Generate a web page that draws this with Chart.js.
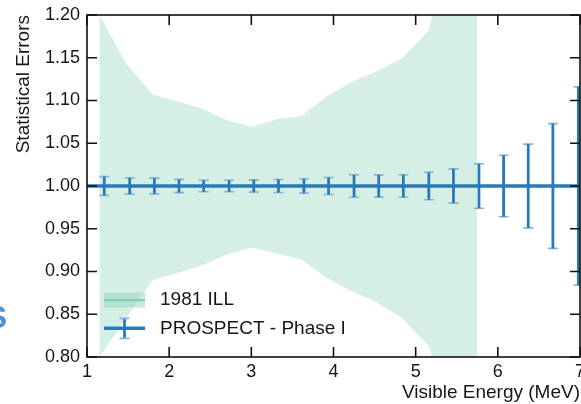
<!DOCTYPE html>
<html>
<head>
<meta charset="utf-8">
<script src="https://cdn.jsdelivr.net/npm/chart.js@4"></script>
<style>
  body { margin: 0; background: #fff; }
  #wrap { position: relative; width: 581px; height: 404px; overflow: hidden; }
  #cut { position: absolute; left: -40px; top: 301px; width: 47px; text-align: right;
         font: bold 32px "Liberation Sans", Arial, sans-serif; line-height: 1; color: #4a8fdc; }
</style>
</head>
<body>
<div id="wrap">
  <canvas id="myChart" width="581" height="404"></canvas>
  <div id="cut">S</div>
</div>
<script>
//// DATOS
// banda ILL 1981
var bandX     = [1.15, 1.48, 1.80, 2.09, 2.39, 2.70, 3.00, 3.31, 3.61, 3.91, 4.22, 4.52, 4.83, 5.16, 5.46, 5.75];
var bandUpper = [1.20, 1.143, 1.107, 1.099, 1.091, 1.077, 1.069, 1.078, 1.082, 1.104, 1.122, 1.134, 1.149, 1.182, 1.31, 1.40];
var bandLower = [0.80, 0.846, 0.890, 0.898, 0.907, 0.920, 0.928, 0.921, 0.914, 0.893, 0.877, 0.864, 0.846, 0.813, 0.72, 0.65];
// PROSPECT fase I
var prospectX   = [1.21, 1.52, 1.82, 2.12, 2.42, 2.73, 3.03, 3.33, 3.64, 3.94, 4.25, 4.55, 4.85, 5.16, 5.46, 5.77, 6.07, 6.37, 6.67, 6.98];
var prospectY   = [1, 1, 1, 1, 1, 1, 1, 1, 1, 1, 1, 1, 1, 1, 1, 1, 1, 1, 1, 1];
var prospectErr = [0.011, 0.0095, 0.0092, 0.0078, 0.0068, 0.0068, 0.0072, 0.0076, 0.0084, 0.010, 0.0131, 0.013, 0.0132, 0.016, 0.020, 0.026, 0.036, 0.049, 0.073, 0.116];
var refLevel = 1.0;
var xTicks = [1, 2, 3, 4, 5, 6, 7];
var yTicks = [0.80, 0.85, 0.90, 0.95, 1.00, 1.05, 1.10, 1.15, 1.20];
var legendNames = ["1981 ILL", "PROSPECT - Phase I"];

var FONT = '"Liberation Sans", Arial, Helvetica, sans-serif';
var azul = "#2a7ab9";
var azulClaro = "#80b5dc";
var verde = "#d5efe4";

function pts(xs, ys){
  return xs.map(function(v, i){ return {x: v, y: ys[i]}; });
}

//// PLUGIN: marco, ticks hacia dentro, barras de error y leyenda
var marco = {
  id: 'marco',
  afterDatasetsDraw: function(chart){
    var ctx = chart.ctx, a = chart.chartArea;
    var sx = chart.scales.x, sy = chart.scales.y;
    ctx.save();
    ctx.beginPath();
    ctx.rect(a.left, a.top, a.right - a.left, a.bottom - a.top);
    ctx.clip();
    // linea de referencia
    var yr = sy.getPixelForValue(refLevel);
    ctx.strokeStyle = azul;
    ctx.lineWidth = 3.5;
    ctx.beginPath(); ctx.moveTo(a.left, yr); ctx.lineTo(a.right, yr); ctx.stroke();
    // barras de error
    for (var i = 0; i < prospectX.length; i++){
      var px = sx.getPixelForValue(prospectX[i]);
      var t = sy.getPixelForValue(prospectY[i] + prospectErr[i]);
      var b = sy.getPixelForValue(prospectY[i] - prospectErr[i]);
      ctx.strokeStyle = azulClaro; ctx.lineWidth = 1.6;
      ctx.beginPath();
      ctx.moveTo(px - 5, t); ctx.lineTo(px + 5, t);
      ctx.moveTo(px - 5, b); ctx.lineTo(px + 5, b);
      ctx.stroke();
      ctx.strokeStyle = azul; ctx.lineWidth = 2.8;
      ctx.beginPath(); ctx.moveTo(px, t); ctx.lineTo(px, b); ctx.stroke();
    }
    ctx.restore();

    // leyenda
    ctx.save();
    var lx = a.left + 17, ly1 = sy.getPixelForValue(0.8665), ly2 = sy.getPixelForValue(0.8335);
    ctx.fillStyle = "rgba(140,208,184,0.45)";
    ctx.fillRect(lx, ly1 - 7.5, 41, 15);
    ctx.strokeStyle = "#7ccbb0"; ctx.lineWidth = 2;
    ctx.beginPath(); ctx.moveTo(lx, ly1); ctx.lineTo(lx + 41, ly1); ctx.stroke();
    ctx.strokeStyle = azul; ctx.lineWidth = 3.5;
    ctx.beginPath(); ctx.moveTo(lx, ly2); ctx.lineTo(lx + 41, ly2); ctx.stroke();
    ctx.lineWidth = 2.8;
    ctx.beginPath(); ctx.moveTo(lx + 20.5, ly2 - 10); ctx.lineTo(lx + 20.5, ly2 + 10); ctx.stroke();
    ctx.strokeStyle = azulClaro; ctx.lineWidth = 1.6;
    ctx.beginPath();
    ctx.moveTo(lx + 15.5, ly2 - 10); ctx.lineTo(lx + 25.5, ly2 - 10);
    ctx.moveTo(lx + 15.5, ly2 + 10); ctx.lineTo(lx + 25.5, ly2 + 10);
    ctx.stroke();
    ctx.fillStyle = "#161616";
    ctx.font = "19px " + FONT;
    ctx.textBaseline = "middle";
    ctx.fillText(legendNames[0], lx + 56, ly1);
    ctx.fillText(legendNames[1], lx + 56, ly2);
    ctx.restore();

    // marco y ticks
    ctx.save();
    ctx.strokeStyle = "#111"; ctx.lineWidth = 1.6;
    ctx.strokeRect(a.left, a.top, a.right - a.left, a.bottom - a.top);
    ctx.beginPath();
    xTicks.forEach(function(v){
      var p = sx.getPixelForValue(v);
      ctx.moveTo(p, a.bottom); ctx.lineTo(p, a.bottom - 10);
      ctx.moveTo(p, a.top); ctx.lineTo(p, a.top + 10);
    });
    yTicks.forEach(function(v){
      var p = sy.getPixelForValue(v);
      ctx.moveTo(a.left, p); ctx.lineTo(a.left + 10, p);
      ctx.moveTo(a.right, p); ctx.lineTo(a.right - 10, p);
    });
    ctx.stroke();
    ctx.restore();
  }
};

var ctx = document.getElementById("myChart").getContext("2d");
var myChart = new Chart(ctx, {
  type: 'line',
  data: {
    datasets: [
      {
        label: "ILL arriba",
        data: pts(bandX, bandUpper),
        borderWidth: 0,
        pointRadius: 0,
        backgroundColor: verde,
        fill: '+1',
        tension: 0
      },
      {
        label: "ILL abajo",
        data: pts(bandX, bandLower),
        borderWidth: 0,
        pointRadius: 0,
        fill: false,
        tension: 0
      },
      {
        label: "PROSPECT",
        data: pts(prospectX, prospectY),
        borderWidth: 0,
        pointRadius: 0,
        showLine: false
      }
    ]
  },
  options: {
    responsive: false,
    animation: false,
    devicePixelRatio: 1,
    layout: { padding: { top: 15, right: 1, left: 0, bottom: 0 } },
    plugins: { legend: { display: false }, tooltip: { enabled: false } },
    scales: {
      x: {
        type: 'linear',
        min: 1, max: 7,
        grid: { display: false, drawTicks: false },
        border: { display: false },
        ticks: { stepSize: 1, padding: 4, color: "#161616", font: { family: FONT, size: 18 } },
        title: { display: true, text: "Visible Energy (MeV)", align: 'end', color: "#161616",
                 font: { family: FONT, size: 19 }, padding: { top: 0, bottom: 0 } },
        afterFit: function(s){ s.height = 47; s.paddingLeft = 0; s.paddingRight = 0; }
      },
      y: {
        min: 0.8, max: 1.2,
        grid: { display: false, drawTicks: false },
        border: { display: false },
        ticks: { stepSize: 0.05, padding: 7, color: "#161616", font: { family: FONT, size: 18 },
                 callback: function(v){ return v.toFixed(2); } },
        title: { display: true, text: "Statistical Errors", align: 'end', color: "#161616",
                 font: { family: FONT, size: 19 }, padding: { top: 12, bottom: 0 } },
        afterFit: function(s){ s.width = 87; s.paddingTop = 0; s.paddingBottom = 0; }
      }
    }
  },
  plugins: [marco]
});
</script>
</body>
</html>
